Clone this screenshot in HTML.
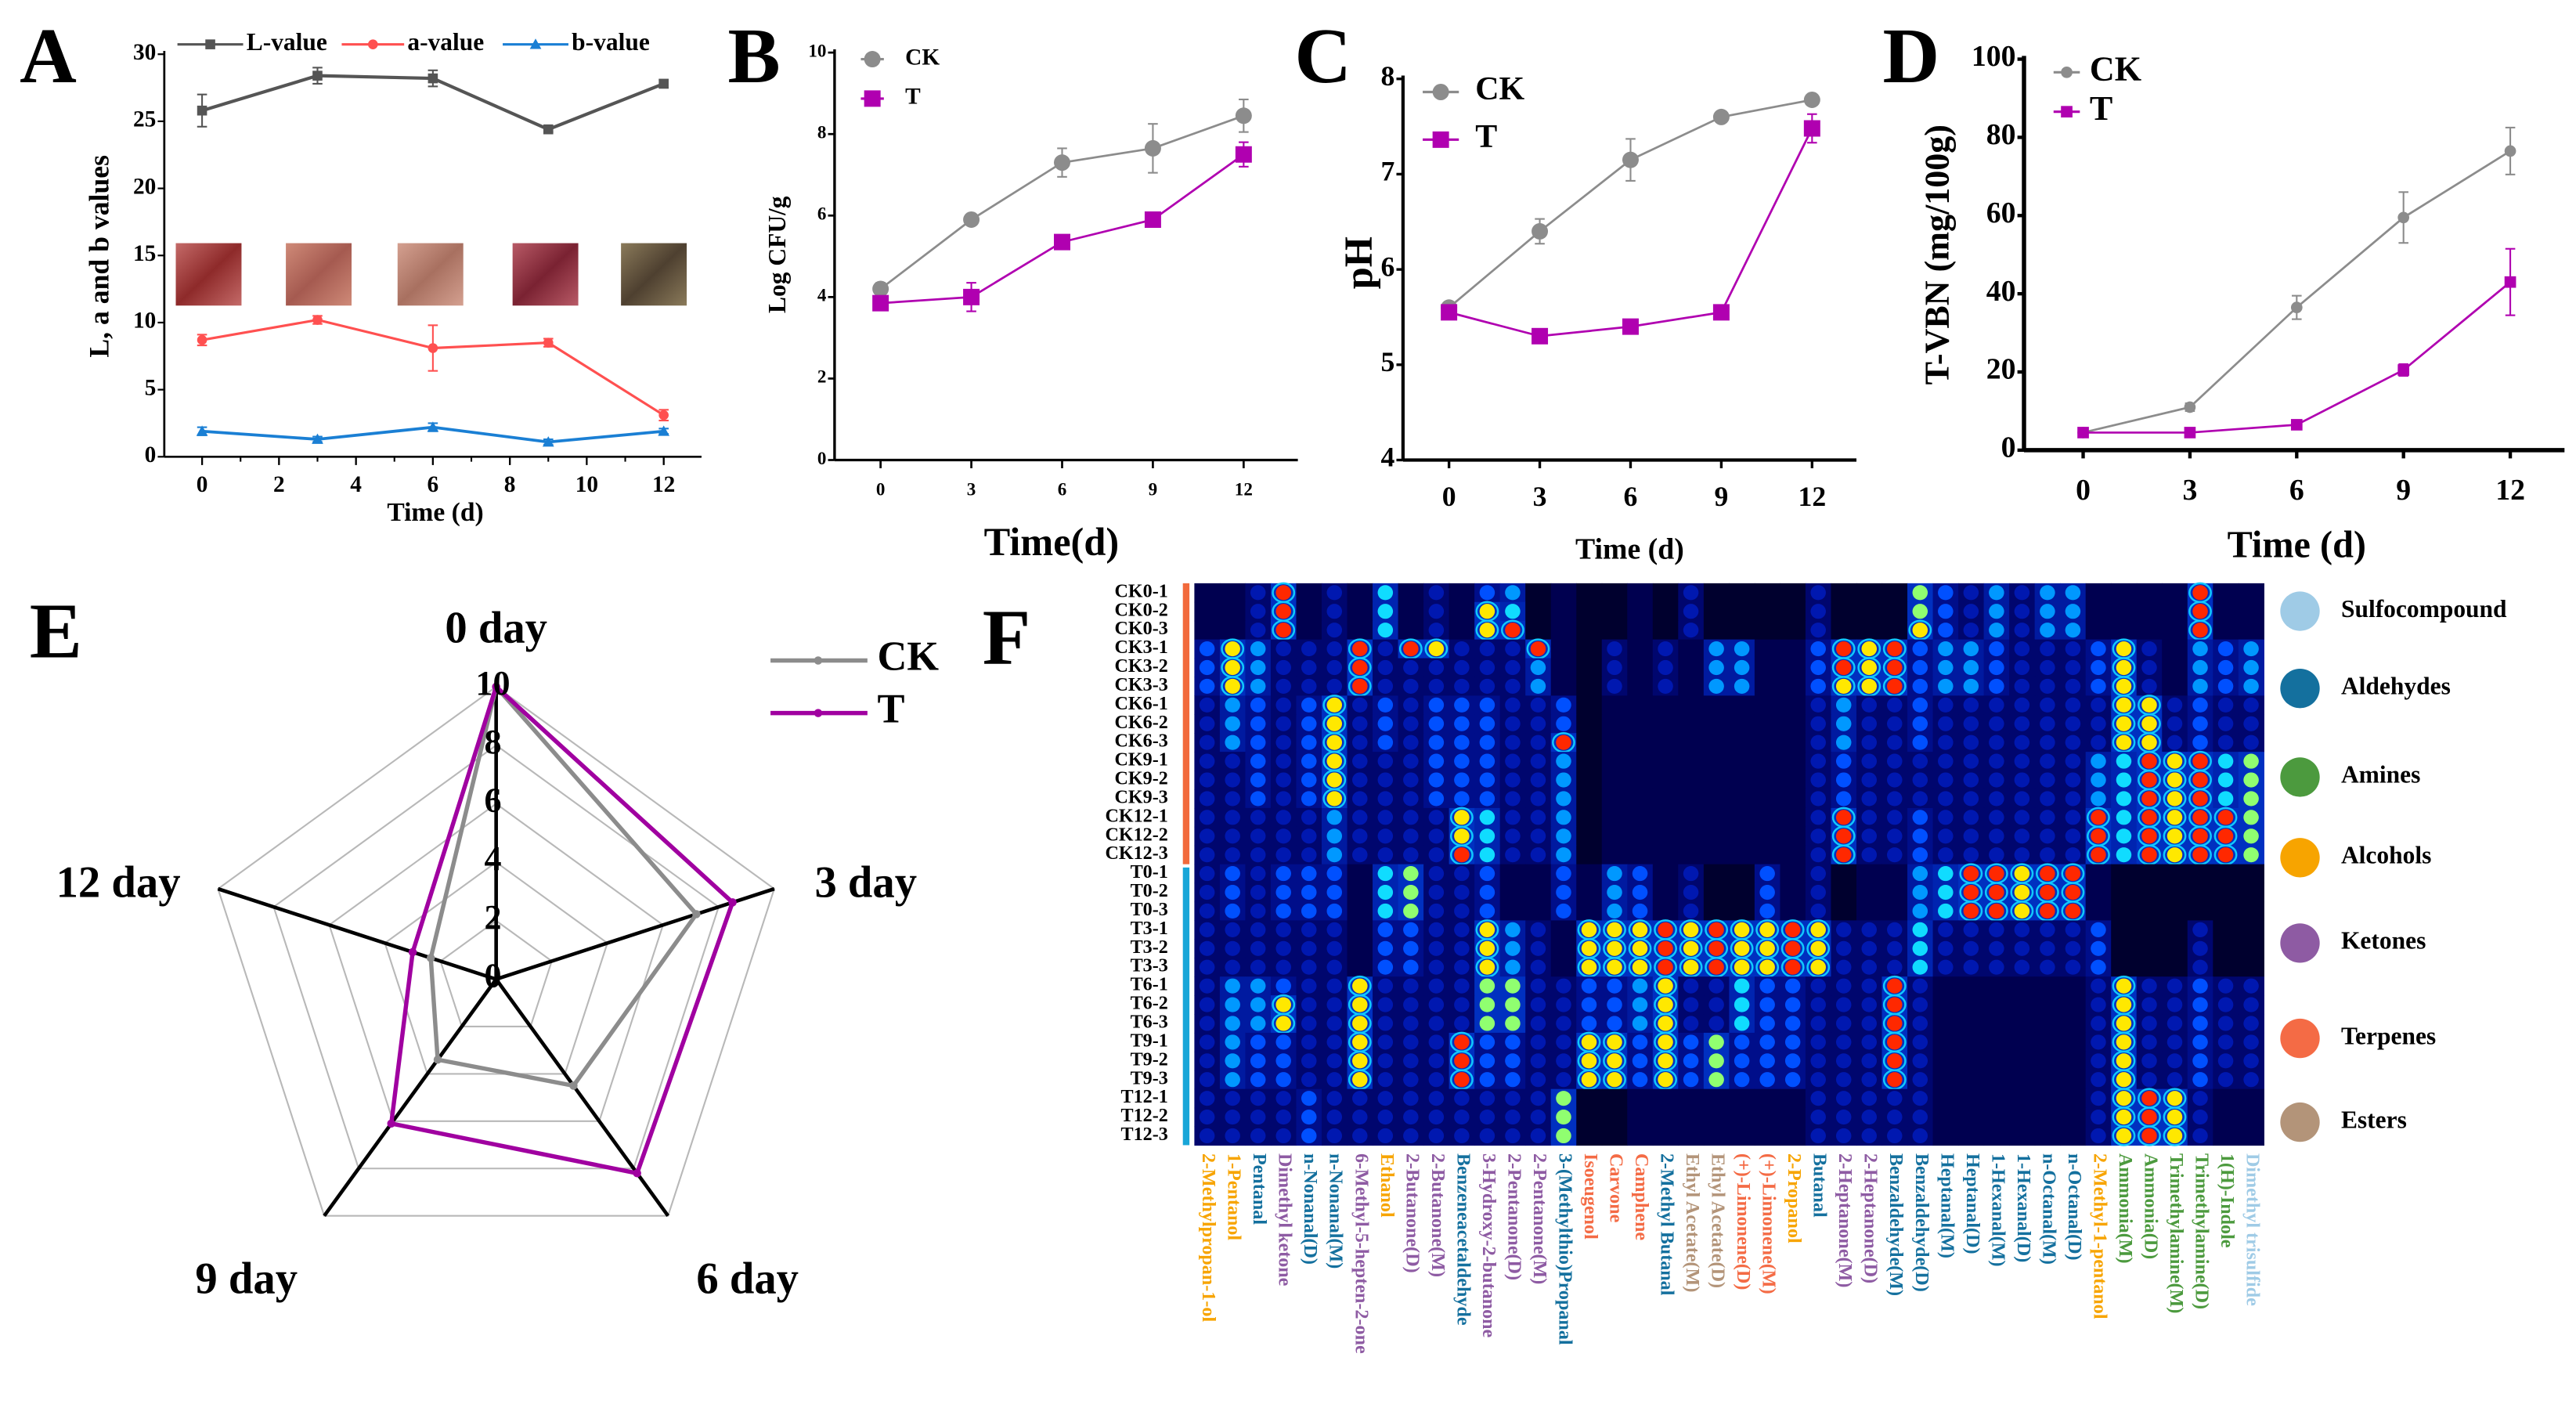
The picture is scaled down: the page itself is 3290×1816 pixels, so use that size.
<!DOCTYPE html>
<html><head><meta charset="utf-8"><style>
html,body{margin:0;padding:0;background:#fff;}
svg{display:block;font-family:"Liberation Serif",serif;}
</style></head><body>
<svg id="fig" width="3290" height="1816" viewBox="0 0 1568 865.5" xmlns="http://www.w3.org/2000/svg">
<rect x="0" y="0" width="1568" height="866" fill="#fff"/>
</svg>
<script>
// ---------- data ----------
const days = [0,3,6,9,12];
const A_L = [25.8,28.4,28.2,24.4,27.8];
const A_Lerr = [1.2,0.6,0.6,0.2,0.3];
const A_a = [8.7,10.2,8.1,8.5,3.1];
const A_aerr = [0.4,0.3,1.7,0.3,0.4];
const A_b = [1.9,1.3,2.2,1.1,1.9];
const A_berr = [0.3,0.2,0.3,0.2,0.2];
const A_xticks = [0,2,4,6,8,10,12];
const A_yticks = [0,5,10,15,20,25,30];
const B_ck = [4.2,5.9,7.3,7.65,8.45];
const B_ckerr = [0.15,0.1,0.35,0.6,0.4];
const B_t = [3.85,4.0,5.35,5.9,7.5];
const B_terr = [0.15,0.35,0.15,0.15,0.3];
const B_yticks = [0,2,4,6,8,10];
const C_ck = [5.6,6.4,7.15,7.6,7.78];
const C_ckerr = [0.05,0.13,0.22,0.04,0.04];
const C_t = [5.55,5.3,5.4,5.55,7.48];
const C_terr = [0.04,0.04,0.04,0.04,0.15];
const C_yticks = [4,5,6,7,8];
const D_ck = [4.5,11,36.5,59.5,76.5];
const D_ckerr = [1,1,3,6.5,6];
const D_t = [4.5,4.5,6.5,20.5,43];
const D_terr = [0.8,0.8,1,1.5,8.5];
const D_yticks = [0,20,40,60,80,100];
const E_labels = ["0 day","3 day","6 day","9 day","12 day"];
const E_ck = [10,7.2,4.5,3.4,2.35];
const E_t = [10,8.5,8.2,6.1,3.0];
const E_ticks = [0,2,4,6,8,10];
const F_rows = ["CK0-1","CK0-2","CK0-3","CK3-1","CK3-2","CK3-3","CK6-1","CK6-2","CK6-3","CK9-1","CK9-2","CK9-3","CK12-1","CK12-2","CK12-3","T0-1","T0-2","T0-3","T3-1","T3-2","T3-3","T6-1","T6-2","T6-3","T9-1","T9-2","T9-3","T12-1","T12-2","T12-3"];
const F_cols = ["2-Methylpropan-1-ol","1-Pentanol","Pentanal","Dimethyl ketone","n-Nonanal(D)","n-Nonanal(M)","6-Methyl-5-hepten-2-one","Ethanol","2-Butanone(D)","2-Butanone(M)","Benzeneacetaldehyde","3-Hydroxy-2-butanone","2-Pentanone(D)","2-Pentanone(M)","3-(Methylthio)Propanal","Isoeugenol","Carvone","Camphene","2-Methyl Butanal","Ethyl Acetate(M)","Ethyl Acetate(D)","(+)-Limonene(D)","(+)-Limonene(M)","2-Propanol","Butanal","2-Heptanone(M)","2-Heptanone(D)","Benzaldehyde(M)","Benzaldehyde(D)","Heptanal(M)","Heptanal(D)","1-Hexanal(M)","1-Hexanal(D)","n-Octanal(M)","n-Octanal(D)","2-Methyl-1-pentanol","Ammonia(M)","Ammonia(D)","Trimethylamine(M)","Trimethylamine(D)","1(H)-Indole","Dimethyl trisulfide"];
const F_colClass = ["Alcohols","Alcohols","Aldehydes","Ketones","Aldehydes","Aldehydes","Ketones","Alcohols","Ketones","Ketones","Aldehydes","Ketones","Ketones","Ketones","Aldehydes","Terpenes","Terpenes","Terpenes","Aldehydes","Esters","Esters","Terpenes","Terpenes","Alcohols","Aldehydes","Ketones","Ketones","Aldehydes","Aldehydes","Aldehydes","Aldehydes","Aldehydes","Aldehydes","Aldehydes","Aldehydes","Alcohols","Amines","Amines","Amines","Amines","Amines","Sulfocompound"];
const F_values = [
"223923 262324 512112 131111 311174 353552 222922",
"223923 262328 612112 131111 311174 353552 222922",
"223923 262328 912112 131111 311184 353552 222922",
"485333 939833 392132 325522 498945 543334 832545",
"485333 933333 352132 325522 498945 543334 832545",
"485333 933333 352132 325522 488945 543334 832545",
"354348 343444 334122 222222 353343 333333 883433",
"354348 343444 334122 222222 353343 333333 883433",
"354348 343444 339122 222222 353343 333333 883433",
"334348 333444 335122 222222 343333 333335 698967",
"334348 333444 335122 222222 343333 333335 698967",
"334348 333444 335122 222222 343333 333335 698967",
"333335 333386 335122 222222 393343 333339 698997",
"333335 333386 335122 222222 393343 333339 698997",
"333335 333396 335122 222222 393343 333339 698997",
"343444 267334 224254 231142 312256 998992 111111",
"343444 267334 224254 231142 312256 998992 111111",
"343444 267334 224254 231142 312256 998992 111111",
"333333 244338 532888 989889 833363 333334 111311",
"333333 244338 532888 989889 833363 333334 111311",
"333333 244338 532888 989889 833363 333334 111311",
"355433 833337 733445 833644 333932 222223 833433",
"355833 833337 733445 833644 333932 222223 833433",
"355833 833337 733445 833644 333932 222223 833433",
"354433 833394 433884 847444 333932 222223 833433",
"354433 833394 433884 847444 333932 222223 833433",
"354433 833394 433884 847444 333932 222223 833433",
"333343 333333 337112 222222 333332 222223 898322",
"333343 333333 337112 222222 333332 222223 898322",
"333343 333333 337112 222222 333332 222223 898322"];
const F_classes = ["Sulfocompound","Aldehydes","Amines","Alcohols","Ketones","Terpenes","Esters"];

// ---------- helpers ----------
const NS="http://www.w3.org/2000/svg";
const svg=document.getElementById('fig');
function el(tag,attrs,parent,text){const e=document.createElementNS(NS,tag);for(const k in attrs)e.setAttribute(k,attrs[k]);if(text!==undefined)e.textContent=text;(parent||svg).appendChild(e);return e;}
function grp(name){const g=el('g',{});return g;}

function panelLetter(t,x,y,size){const e=el('text',{x:x,y:y,'font-size':size,'font-weight':'bold'},svg,t);

}

function lineChart(cfg){
  const g=grp(cfg.name);
  const xs=v=>cfg.x0+(v-0)/12*(cfg.x12-cfg.x0);
  const ys=v=>cfg.yb+(v-cfg.ymin)/(cfg.ymax-cfg.ymin)*(cfg.yt-cfg.yb);
  const ax=el('line',{x1:cfg.ax,y1:ys(cfg.ymax)-2,x2:cfg.ax,y2:cfg.yb,stroke:'#000','stroke-width':cfg.aw},g);
  
  const bx=el('line',{x1:cfg.ax,y1:cfg.yb,x2:cfg.axEnd,y2:cfg.yb,stroke:'#000','stroke-width':cfg.aw},g);
  
  cfg.yticks.forEach(v=>{
    el('line',{x1:cfg.ax-4,y1:ys(v),x2:cfg.ax,y2:ys(v),stroke:'#000','stroke-width':cfg.aw*0.8},g);
    const t=el('text',{x:cfg.ax-5,y:ys(v),'font-size':cfg.tfs,'font-weight':'bold','text-anchor':'end','dominant-baseline':'middle'},g,String(v));
    
  });
  if(cfg.minor){for(let v=0;v<=13;v++){const x=xs(v);if(x<cfg.axEnd)el('line',{x1:x,y1:cfg.yb,x2:x,y2:cfg.yb+(v%2==0?5:3),stroke:'#000','stroke-width':1},g);}}
  cfg.xticks.forEach(v=>{
    el('line',{x1:xs(v),y1:cfg.yb,x2:xs(v),y2:cfg.yb+5,stroke:'#000','stroke-width':cfg.aw*0.8},g);
    const t=el('text',{x:xs(v),y:cfg.xly,'font-size':cfg.tfs,'font-weight':'bold','text-anchor':'middle','dominant-baseline':'middle'},g,String(v));
    
  });
  const xt=el('text',{x:cfg.xtx,y:cfg.xty,'font-size':cfg.xtfs,'font-weight':'bold','text-anchor':'middle'},g,cfg.xtitle);
  
  const yt=el('text',{x:0,y:0,'font-size':cfg.ytfs,'font-weight':'bold','text-anchor':'middle',transform:`translate(${cfg.ytx},${cfg.yty}) rotate(-90)`},g,cfg.ytitle);
  
  cfg.series.forEach(s=>{
    const sg=el('g',{},g);
    const pts=s.vals.map((v,i)=>xs(days[i])+','+ys(v)).join(' ');
    const pl=el('polyline',{points:pts,fill:'none',stroke:s.color,'stroke-width':s.lw},sg);
    
    s.vals.forEach((v,i)=>{
      const x=xs(days[i]),e=s.err[i];
      el('line',{x1:x,y1:ys(v-e),x2:x,y2:ys(v+e),stroke:s.color,'stroke-width':1},sg);
      el('line',{x1:x-3,y1:ys(v-e),x2:x+3,y2:ys(v-e),stroke:s.color,'stroke-width':1},sg);
      el('line',{x1:x-3,y1:ys(v+e),x2:x+3,y2:ys(v+e),stroke:s.color,'stroke-width':1},sg);
      let m;
      if(s.shape==='circle')m=el('circle',{cx:x,cy:ys(v),r:s.ms,fill:s.color},sg);
      else if(s.shape==='square')m=el('rect',{x:x-s.ms,y:ys(v)-s.ms,width:2*s.ms,height:2*s.ms,fill:s.color},sg);
      else m=el('polygon',{points:`${x},${ys(v)-s.ms} ${x-s.ms},${ys(v)+s.ms*0.8} ${x+s.ms},${ys(v)+s.ms*0.8}`,fill:s.color},sg);
      
    });
  });
  cfg.legend.forEach(l=>{
    const lg=el('g',{},g);
    el('line',{x1:l.x1,y1:l.y,x2:l.x2,y2:l.y,stroke:l.color,'stroke-width':l.lw||1.5},lg);
    const mx=(l.x1+l.x2)/2;
    if(l.shape==='circle')el('circle',{cx:mx,cy:l.y,r:l.ms,fill:l.color},lg);
    else if(l.shape==='square')el('rect',{x:mx-l.ms,y:l.y-l.ms,width:2*l.ms,height:2*l.ms,fill:l.color},lg);
    else el('polygon',{points:`${mx},${l.y-l.ms} ${mx-l.ms},${l.y+l.ms*0.8} ${mx+l.ms},${l.y+l.ms*0.8}`,fill:l.color},lg);
    el('text',{x:l.tx,y:l.y,'font-size':l.fs,'font-weight':'bold','dominant-baseline':'middle'},lg,l.label);
  });
  return {g,xs,ys};
}

// ---------- Panel A ----------
panelLetter('A',12,50,48);
const pA=lineChart({name:'panel-a-color-chart',x0:123,x12:404,yb:278,yt:33,ymin:0,ymax:30,ax:100,axEnd:427,aw:1.3,minor:true,
 yticks:A_yticks,xticks:A_xticks,tfs:14,xly:296,xtitle:'Time (d)',xtx:265,xty:317,xtfs:16,ytitle:'L, a and b values',ytx:66,yty:156,ytfs:17,
 series:[{key:'L-value',vals:A_L,err:A_Lerr,color:'#555',lw:2,shape:'square',ms:3},
         {key:'a-value',vals:A_a,err:A_aerr,color:'#ff5050',lw:1.5,shape:'circle',ms:3},
         {key:'b-value',vals:A_b,err:A_berr,color:'#1a7fd4',lw:1.8,shape:'tri',ms:3.5}],
 legend:[{label:'L-value',x1:108,x2:148,y:27,color:'#555',shape:'square',ms:3,tx:150,fs:15},
         {label:'a-value',x1:208,x2:246,y:27,color:'#ff5050',shape:'circle',ms:3,tx:248,fs:15},
         {label:'b-value',x1:306,x2:346,y:27,color:'#1a7fd4',shape:'tri',ms:3.5,tx:348,fs:15}]});
const meatCols=[['#c46a68','#8e2a2a'],['#cf8a78','#a55a50'],['#d4a090','#a87060'],['#b85a66','#7a2232'],['#8a7a5a','#4e4030']];
const meatX=[107,174,242,312,378];
meatX.forEach((x,i)=>{
  const id='mg'+i;
  const d=el('defs',{});const lg=el('linearGradient',{id:id,x1:0,y1:0,x2:1,y2:1},d);
  el('stop',{offset:'0','stop-color':meatCols[i][0]},lg);el('stop',{offset:'0.5','stop-color':meatCols[i][1]},lg);el('stop',{offset:'1','stop-color':meatCols[i][0]},lg);
  const r=el('rect',{x:x,y:148,width:40,height:38,fill:`url(#${id})`},pA.g);
  
});

// ---------- Panel B ----------
panelLetter('B',443,50,48);
lineChart({name:'panel-b-microbe-chart',x0:536,x12:757,yb:280,yt:32,ymin:0,ymax:10,ax:508,axEnd:790,aw:1.6,
 yticks:B_yticks,xticks:days,tfs:11,xly:299,xtitle:'Time(d)',xtx:640,xty:338,xtfs:24,ytitle:'Log CFU/g',ytx:478,yty:155,ytfs:15,
 series:[{key:'CK',vals:B_ck,err:B_ckerr,color:'#8c8c8c',lw:1.3,shape:'circle',ms:5},
         {key:'T',vals:B_t,err:B_terr,color:'#b000b0',lw:1.3,shape:'square',ms:5}],
 legend:[{label:'CK',x1:524,x2:538,y:36,color:'#8c8c8c',shape:'circle',ms:5,tx:551,fs:14,lw:0},
         {label:'T',x1:524,x2:538,y:60,color:'#b000b0',shape:'square',ms:5,tx:551,fs:14,lw:1.5}]});

// ---------- Panel C ----------
panelLetter('C',788,50,48);
lineChart({name:'panel-c-ph-chart',x0:882,x12:1103,yb:280,yt:48,ymin:4,ymax:8,ax:854,axEnd:1130,aw:2,
 yticks:C_yticks,xticks:days,tfs:17,xly:304,xtitle:'Time (d)',xtx:992,xty:340,xtfs:18,ytitle:'pH',ytx:835,yty:160,ytfs:24,
 series:[{key:'CK',vals:C_ck,err:C_ckerr,color:'#8c8c8c',lw:1.3,shape:'circle',ms:5},
         {key:'T',vals:C_t,err:C_terr,color:'#b000b0',lw:1.3,shape:'square',ms:5}],
 legend:[{label:'CK',x1:866,x2:888,y:56,color:'#8c8c8c',shape:'circle',ms:5,tx:898,fs:20},
         {label:'T',x1:866,x2:888,y:85,color:'#b000b0',shape:'square',ms:5,tx:898,fs:20}]});

// ---------- Panel D ----------
panelLetter('D',1146,50,48);
lineChart({name:'panel-d-tvbn-chart',x0:1268,x12:1528,yb:274,yt:36,ymin:0,ymax:100,ax:1232,axEnd:1561,aw:2.6,
 yticks:D_yticks,xticks:days,tfs:18,xly:300,xtitle:'Time (d)',xtx:1398,xty:339,xtfs:23,ytitle:'T-VBN (mg/100g)',ytx:1186,yty:155,ytfs:21,
 series:[{key:'CK',vals:D_ck,err:D_ckerr,color:'#8c8c8c',lw:1.3,shape:'circle',ms:3.5},
         {key:'T',vals:D_t,err:D_terr,color:'#b000b0',lw:1.3,shape:'square',ms:3.5}],
 legend:[{label:'CK',x1:1250,x2:1266,y:44,color:'#8c8c8c',shape:'circle',ms:3.5,tx:1272,fs:21},
         {label:'T',x1:1250,x2:1266,y:68,color:'#b000b0',shape:'square',ms:3.5,tx:1272,fs:21}]});

// ---------- Panel E radar ----------
panelLetter('E',18,400,48);
(function(){
  const g=grp('panel-e-radar-chart');
  const cx=302,cy=596,unit=17.8;
  const ang=i=>(-90+72*i)*Math.PI/180;
  const pt=(i,v)=>[cx+Math.cos(ang(i))*v*unit,cy+Math.sin(ang(i))*v*unit];
  E_ticks.slice(1).forEach(v=>{
    const p=E_labels.map((_,i)=>pt(i,v).join(',')).join(' ');
    const w=el('polygon',{points:p,fill:'none',stroke:'#b8b8b8','stroke-width':1},g);
    
  });
  E_labels.forEach((lab,i)=>{
    const [x,y]=pt(i,10);
    const a=el('line',{x1:cx,y1:cy,x2:x,y2:y,stroke:'#000','stroke-width':2.2},g);
    
  });
  const labPos=[[302,391],[527,546],[455,787],[150,787],[72,546]];
  E_labels.forEach((lab,i)=>{
    const t=el('text',{x:labPos[i][0],y:labPos[i][1],'font-size':27,'font-weight':'bold','text-anchor':'middle'},g,lab);
    
  });
  [['CK',E_ck,'#8c8c8c'],['T',E_t,'#a000a0']].forEach(([k,vals,c])=>{
    const p=vals.map((v,i)=>pt(i,v).join(',')).join(' ');
    const pg=el('polygon',{points:p,fill:'none',stroke:c,'stroke-width':2.6},g);
    
    vals.forEach((v,i)=>{const [x,y]=pt(i,v);el('circle',{cx:x,cy:y,r:2.5,fill:c},g);});
  });
  E_ticks.forEach(v=>{
    const t=el('text',{x:cx-2,y:cy-v*unit,'font-size':21,'font-weight':'bold','text-anchor':'middle','dominant-baseline':'middle'},g,String(v));
    
  });
  [['CK',402,'#8c8c8c'],['T',434,'#a000a0']].forEach(([k,y,c])=>{
    const lg=el('g',{},g);
    el('line',{x1:469,y1:y,x2:528,y2:y,stroke:c,'stroke-width':2.6},lg);
    el('circle',{cx:498,cy:y,r:2.5,fill:c},lg);
    el('text',{x:534,y:y,'font-size':25,'font-weight':'bold','dominant-baseline':'middle'},lg,k);
  });
})();

// ---------- Panel F heatmap ----------
panelLetter('F',598,404,48);
(function(){
  const g=grp('panel-f-heatmap');
  const hx0=727,hx1=1378,hy0=355,hy1=697;
  const cw=(hx1-hx0)/F_cols.length,rh=(hy1-hy0)/F_rows.length;
  const cmap=['#000008','#00003c','#000070','#0018b0','#0050ff','#0098ff','#10dcff','#90ff70','#ffe800','#ff2800'];
  const bgmap=['#000008','#00002e','#000050','#00066e','#000e8a','#001aa0','#0024b0','#0030c0','#0030c0','#0030c0'];
  const classColor={Sulfocompound:'#9fcbe6',Aldehydes:'#14709e',Amines:'#4c9a3e',Alcohols:'#f7a400',Ketones:'#8e5ba3',Terpenes:'#f46b45',Esters:'#b39479'};
  const vals=F_values.map(s=>s.replace(/ /g,''));
  vals.forEach((row,r)=>{
    for(let c=0;c<row.length;c++){
      const v=+row[c];
      const cell=el('rect',{x:hx0+c*cw,y:hy0+r*rh,width:cw+0.3,height:rh+0.3,fill:bgmap[v]},g);
      
      
      if(v>=3){
        const sp=el('ellipse',{cx:hx0+(c+0.5)*cw,cy:hy0+(r+0.5)*rh,rx:cw*0.3,ry:rh*0.4,fill:cmap[v]},g);
        
        
        if(v>=8){el('ellipse',{cx:hx0+(c+0.5)*cw,cy:hy0+(r+0.5)*rh,rx:cw*0.42,ry:rh*0.5,fill:'none',stroke:'#10c8ff','stroke-width':1.2},g);}
      }
    }
  });
  F_rows.forEach((lab,r)=>{
    const t=el('text',{x:711,y:hy0+(r+0.5)*rh,'font-size':11.5,'font-weight':'bold','text-anchor':'end','dominant-baseline':'middle'},g,lab);
    
  });
  const ob=el('rect',{x:720,y:hy0,width:4,height:rh*15,fill:'#f26a3c'},g);
  
  const bb=el('rect',{x:720,y:hy0+rh*15+2,width:4,height:rh*15-2,fill:'#19a6d8'},g);
  
  F_cols.forEach((lab,c)=>{
    const x=hx0+(c+0.5)*cw;
    const t=el('text',{x:0,y:0,'font-size':11.5,'font-weight':'bold','dominant-baseline':'middle',fill:classColor[F_colClass[c]],transform:`translate(${x},702) rotate(90)`},g,lab);
    
  });
  const ly=[372,419,473,522,574,632,683];
  F_classes.forEach((k,i)=>{
    const lg=el('g',{},g);
    el('circle',{cx:1400,cy:ly[i],r:12,fill:classColor[k]},lg);
    el('text',{x:1425,y:ly[i],'font-size':15,'font-weight':'bold','dominant-baseline':'middle'},lg,k);
  });
})();
</script>
</body></html>
